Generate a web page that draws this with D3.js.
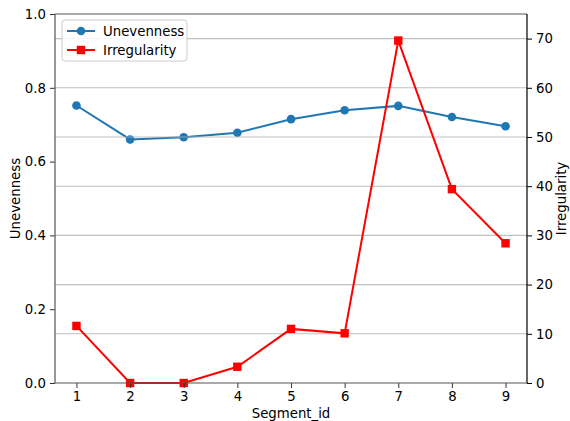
<!DOCTYPE html>
<html>
<head>
<meta charset="utf-8">
<script src="https://cdn.jsdelivr.net/npm/d3@7"></script>
<style>
  body { margin: 0; background: #fff; }
  svg { display: block; font-family: "DejaVu Sans", sans-serif; }
</style>
</head>
<body>
<svg id="chart" width="570" height="421"></svg>
<script>
// data
const segments = [1, 2, 3, 4, 5, 6, 7, 8, 9];
const unevenness = [0.752, 0.660, 0.666, 0.678, 0.715, 0.739, 0.751, 0.721, 0.696];
const irregularity = [11.6, 0, 0, 3.3, 11.0, 10.1, 69.6, 39.4, 28.4];
const leftTicks = [0, 0.2, 0.4, 0.6, 0.8, 1.0];
const rightTicks = [0, 10, 20, 30, 40, 50, 60, 70];

const margin = { top: 14, right: 43, bottom: 38, left: 55 };
const width = 570 - margin.left - margin.right;
const height = 421 - margin.top - margin.bottom;

const svg = d3.select("#chart");
const g = svg.append("g").attr("transform", `translate(${margin.left},${margin.top})`);

const x = d3.scaleLinear().domain([0.6, 9.4]).range([0, width]);
const yL = d3.scaleLinear().domain([0, 1]).range([height, 0]);
const yR = d3.scaleLinear().domain([0, 75]).range([height, 0]);

const fontSize = "13.3px";
const blue = "#1f77b4";
const red = "#ff0000";

// unevenness series (lower axes)
g.append("path")
    .datum(segments)
    .attr("fill", "none")
    .attr("stroke", blue)
    .attr("stroke-width", 2)
    .attr("d", d3.line().x(d => x(d)).y((d, i) => yL(unevenness[i])));

g.selectAll(".dot")
    .data(segments)
    .enter().append("circle")
    .attr("class", "dot")
    .attr("cx", d => x(d))
    .attr("cy", (d, i) => yL(unevenness[i]))
    .attr("r", 4.3)
    .attr("fill", blue);

// grid belongs to the twin (right) axes, drawn over the blue line
g.append("g")
    .selectAll("line")
    .data(rightTicks.filter(t => t > 0))
    .enter().append("line")
    .attr("x1", 0)
    .attr("x2", width)
    .attr("y1", d => yR(d))
    .attr("y2", d => yR(d))
    .attr("stroke", "#b0b0b0")
    .attr("stroke-opacity", 0.8)
    .attr("stroke-width", 1.1);

// irregularity series
g.append("path")
    .datum(segments)
    .attr("fill", "none")
    .attr("stroke", red)
    .attr("stroke-width", 2)
    .attr("d", d3.line().x(d => x(d)).y((d, i) => yR(irregularity[i])));

g.selectAll(".sq")
    .data(segments)
    .enter().append("rect")
    .attr("class", "sq")
    .attr("x", d => x(d) - 4.2)
    .attr("y", (d, i) => yR(irregularity[i]) - 4.2)
    .attr("width", 8.4)
    .attr("height", 8.4)
    .attr("fill", red);

// axes
function styleAxis(sel, color) {
    sel.selectAll("text").attr("font-size", fontSize).attr("fill", "#000")
        .attr("font-family", "DejaVu Sans, sans-serif");
    sel.selectAll("line").attr("stroke", color).attr("stroke-width", 1);
    sel.select(".domain").remove();
}

const xAxis = g.append("g")
    .attr("transform", `translate(0,${height})`)
    .call(d3.axisBottom(x).tickValues(segments).tickSize(5).tickPadding(4));
styleAxis(xAxis, "#333");

const leftAxis = g.append("g")
    .call(d3.axisLeft(yL).tickValues(leftTicks).tickFormat(d3.format(".1f")).tickSize(5).tickPadding(4));
styleAxis(leftAxis, "#333");

const rightAxis = g.append("g")
    .attr("transform", `translate(${width},0)`)
    .call(d3.axisRight(yR).tickValues(rightTicks).tickSize(5).tickPadding(4));
styleAxis(rightAxis, "#000");

// spines
g.append("line").attr("x1", 0).attr("x2", width).attr("y1", 0).attr("y2", 0)
    .attr("stroke", "#555").attr("stroke-width", 1.2);
g.append("line").attr("x1", 0).attr("x2", width).attr("y1", height).attr("y2", height)
    .attr("stroke", "#555").attr("stroke-width", 1.2);
g.append("line").attr("x1", 0).attr("x2", 0).attr("y1", 0).attr("y2", height)
    .attr("stroke", "#555").attr("stroke-width", 1.2);
g.append("line").attr("x1", width).attr("x2", width).attr("y1", 0).attr("y2", height)
    .attr("stroke", "#000").attr("stroke-width", 1.2);

// axis titles
svg.append("text")
    .attr("x", margin.left + width / 2)
    .attr("y", 418)
    .attr("text-anchor", "middle")
    .attr("font-size", fontSize)
    .text("Segment_id");

svg.append("text")
    .attr("transform", `translate(20,${margin.top + height / 2}) rotate(-90)`)
    .attr("text-anchor", "middle")
    .attr("font-size", fontSize)
    .text("Unevenness");

svg.append("text")
    .attr("transform", `translate(566,${margin.top + height / 2}) rotate(-90)`)
    .attr("text-anchor", "middle")
    .attr("font-size", fontSize)
    .text("Irregularity");

// legend
const legend = g.append("g").attr("transform", "translate(7,6)");
legend.append("rect")
    .attr("width", 125).attr("height", 41).attr("rx", 3)
    .attr("fill", "#fff").attr("fill-opacity", 0.85)
    .attr("stroke", "#ccc");

const entries = [
    { name: "Unevenness", color: blue, shape: "circle" },
    { name: "Irregularity", color: red, shape: "square" }
];
const item = legend.selectAll(".item")
    .data(entries)
    .enter().append("g")
    .attr("class", "item")
    .attr("transform", (d, i) => `translate(0,${11 + i * 19})`);

item.append("line")
    .attr("x1", 5).attr("x2", 33)
    .attr("stroke", d => d.color).attr("stroke-width", 2);
item.filter(d => d.shape === "circle").append("circle")
    .attr("cx", 19).attr("r", 4.3).attr("fill", d => d.color);
item.filter(d => d.shape === "square").append("rect")
    .attr("x", 14.8).attr("y", -4.2).attr("width", 8.4).attr("height", 8.4)
    .attr("fill", d => d.color);
item.append("text")
    .attr("x", 41).attr("dy", "0.35em")
    .attr("font-size", fontSize)
    .text(d => d.name);
</script>
</body>
</html>
